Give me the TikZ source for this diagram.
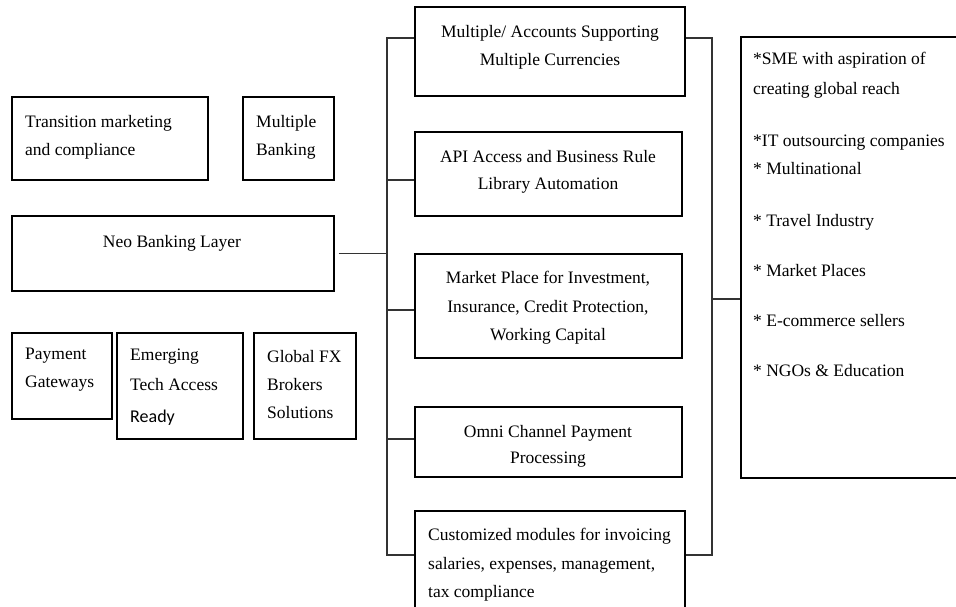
\documentclass[tikz,border=0pt]{standalone}
\usepackage{fontspec}
\setmainfont{Liberation Serif}
\newfontfamily\calib{Carlito}
\begin{document}
\begin{tikzpicture}[x=1pt,y=-1pt,
  box/.style={draw=black, line width=1.3pt, rectangle, inner sep=0pt},
  txt/.style={inner sep=0pt, font=\fontsize{17.5}{28}\selectfont, text=black},
  conn/.style={draw=black!80, line width=1.3pt}]
\useasboundingbox (0,0) rectangle (956,607);
\clip (0,0) rectangle (956,607);
% left boxes
\node[box, minimum width=196pt, minimum height=83pt] (trans) at (110,138.5) {};
\node[txt, anchor=north west, align=left] (transT) at (25,115) {Transition marketing\\and compliance};
\node[box, minimum width=91pt, minimum height=83pt] (mbank) at (288.5,138.5) {};
\node[txt, anchor=north west, align=left] (mbankT) at (256,115) {Multiple\\Banking};
\node[box, minimum width=322pt, minimum height=75pt] (neo) at (173,253.5) {};
\node[txt, anchor=north, align=center] (neoT) at (172,235) {Neo Banking Layer};
\node[box, minimum width=100pt, minimum height=86pt] (pay) at (62,376) {};
\node[txt, anchor=north west, align=left] (payT) at (25,348) {Payment\\Gateways};
\node[box, minimum width=126pt, minimum height=106pt] (emerg) at (180,386) {};
\node[txt, anchor=north west, align=left] (emergT) at (130,349) {Emerging\\[2pt]Tech Access\\[4pt]{\calib\fontsize{18}{28}\selectfont Ready}};
\node[box, minimum width=102pt, minimum height=106pt] (fx) at (305,386) {};
\node[txt, anchor=north west, align=left] (fxT) at (267,350) {Global FX\\Brokers\\Solutions};
% middle boxes
\node[box, minimum width=270pt, minimum height=89pt] (b1) at (550,51.5) {};
\node[txt, anchor=north, align=center] (b1T) at (550,25) {Multiple/ Accounts Supporting\\Multiple Currencies};
\node[box, minimum width=267pt, minimum height=84pt] (b2) at (548.5,174) {};
\node[txt, anchor=north, align=center] (b2T) at (548,150) {API Access and Business Rule\\[-1pt]Library Automation};
\node[box, minimum width=267pt, minimum height=104pt] (b3) at (548.5,306) {};
\node[txt, anchor=north, align=center] (b3T) at (548,271) {Market Place for Investment,\\[0.5pt]Insurance, Credit Protection,\\[0.5pt]Working Capital};
\node[box, minimum width=267pt, minimum height=70pt] (b4) at (548.5,442) {};
\node[txt, anchor=north, align=center] (b4T) at (548,425) {Omni Channel Payment\\[-2pt]Processing};
\node[box, minimum width=270pt, minimum height=114pt] (b5) at (550,568) {};
\node[txt, anchor=north west, align=left] (b5T) at (428,528) {Customized modules for invoicing\\[0.5pt]salaries, expenses, management,\\[0.5pt]tax compliance};
% right box
\node[box, minimum width=240pt, minimum height=441pt] (tgt) at (861,257.5) {};
\node[txt, anchor=north west, align=left] (tgtT) at (753,52) {*SME with aspiration of\\[2pt]creating global reach\\[24pt]*IT outsourcing companies\\* Multinational\\[24pt]* Travel Industry\\[22pt]* Market Places\\[22pt]* E-commerce sellers\\[22pt]* NGOs \& Education};
% connectors
\coordinate (Lt) at (387,38);
\coordinate (L2) at (387,180);
\coordinate (L3) at (387,310);
\coordinate (L4) at (387,439);
\coordinate (Lb) at (387,555);
\coordinate (Rt) at (712,38);
\coordinate (Rm) at (712,299);
\coordinate (Rb) at (712,555);
\draw[conn] (b1.west |- Lt) -- (Lt) -- (Lb) -- (b5.west |- Lb);
\draw[conn] (L2) -- (b2.west |- L2);
\draw[conn] (L3) -- (b3.west |- L3);
\draw[conn] (L4) -- (b4.west |- L4);
\draw[conn] ([xshift=4pt]neo.east) -- (neo.east -| Lt);
\draw[conn] (b1.east |- Rt) -- (Rt) -- (Rb) -- (b5.east |- Rb);
\draw[conn] (Rm) -- (tgt.west |- Rm);
\end{tikzpicture}
\end{document}
